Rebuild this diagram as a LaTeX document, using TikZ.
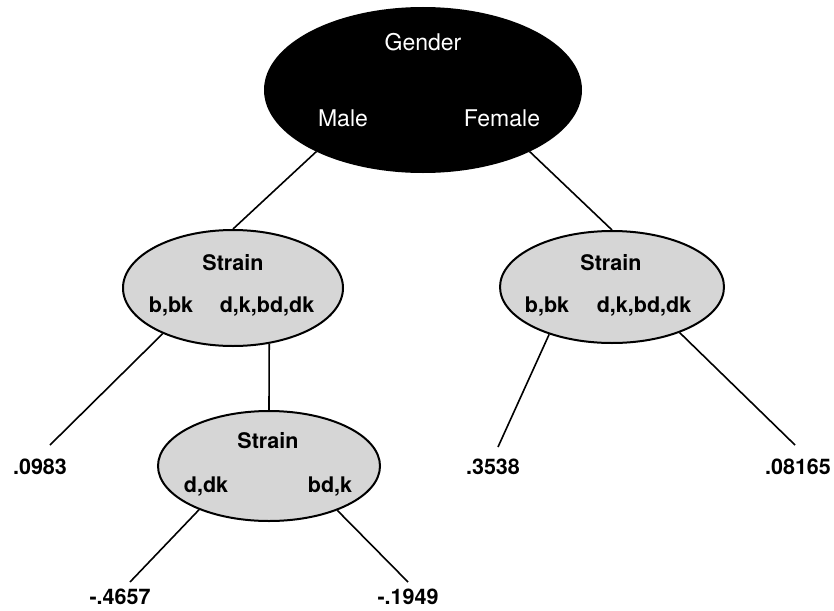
\documentclass[tikz,border=0pt]{standalone}
\usepackage{fontspec}
\setmainfont{TeX Gyre Heros}
\usetikzlibrary{shapes.geometric}

\begin{document}
\begin{tikzpicture}[x=1pt,y=-1pt,line width=1.6pt,
	font=\fontsize{21.5}{26}\selectfont\bfseries,
	knoten/.style={ellipse,draw,line width=2pt,inner sep=0pt},
	grau/.style={knoten,fill=black!16},
	txt/.style={anchor=base,inner sep=0pt},
	weiss/.style={txt,text=white,font=\fontsize{23}{27}\selectfont}]
	\useasboundingbox (0,0) rectangle (834,610);

	% Wurzel
	\node[knoten,fill=black,minimum width=316pt,minimum height=164pt] (gender) at (423,90) {};
	\node[weiss] (gender-t) at (423,50) {Gender};
	\node[weiss] (gender-m) at (343,126) {Male};
	\node[weiss] (gender-f) at (502,126) {Female};

	% Strain-Knoten
	\node[grau,minimum width=220pt,minimum height=116pt] (links) at (233,288) {};
	\node[txt] (links-t) at (233,270) {Strain};
	\node[txt] (links-a) at (171,312) {b,bk};
	\node[txt] (links-b) at (267,312) {d,k,bd,dk};

	\node[grau,minimum width=224pt,minimum height=112pt] (rechts) at (612,287) {};
	\node[txt] (rechts-t) at (611,270) {Strain};
	\node[txt] (rechts-a) at (547,312) {b,bk};
	\node[txt] (rechts-b) at (644,312) {d,k,bd,dk};

	\node[grau,minimum width=222pt,minimum height=110pt] (unten) at (269,466) {};
	\node[txt] (unten-t) at (268,448) {Strain};
	\node[txt] (unten-a) at (206,492) {d,dk};
	\node[txt] (unten-b) at (330,492) {bd,k};

	\draw (gender.210) -- (links.north);
	\draw (gender.330) -- (rechts.north);
	\draw (links.303) -- (unten.north);

	% Blaetter
	\def\blatt#1#2#3#4{
		\coordinate (#1-e) at #2;
		\node[txt] (#1) at #3 {#4};
	}
	\blatt{w1}{(50,445)}{(40,474)}{.0983}
	\blatt{w2}{(498,447)}{(493,474)}{.3538}
	\blatt{w3}{(795,445)}{(798,474)}{.08165}
	\blatt{w4}{(130,582)}{(120,604)}{-.4657}
	\blatt{w5}{(408,582)}{(408,604)}{-.1949}

	\draw (links.213) -- (w1-e);
	\draw (rechts.217) -- (w2-e);
	\draw (rechts.326) -- (w3-e);
	\draw (unten.212) -- (w4-e);
	\draw (unten.327) -- (w5-e);
\end{tikzpicture}
\end{document}
